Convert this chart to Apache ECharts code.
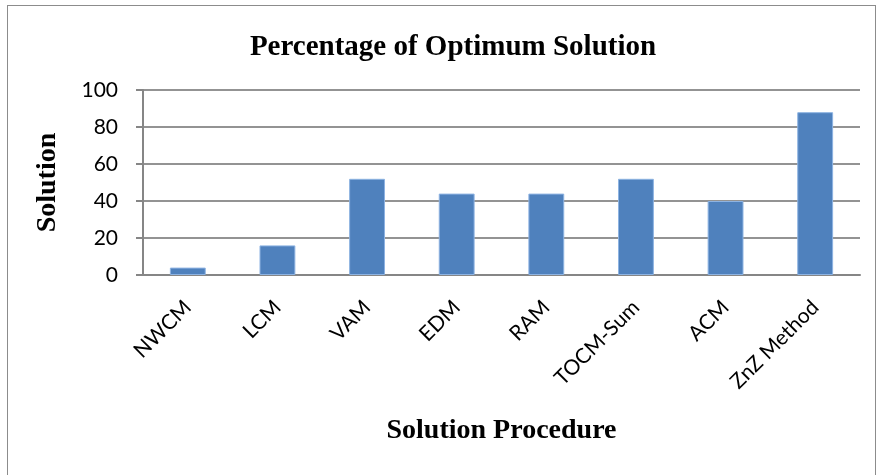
<!DOCTYPE html>
<html><head><meta charset="utf-8">
<script src="https://cdn.jsdelivr.net/npm/echarts@6/dist/echarts.min.js"></script>
<style>
html,body{margin:0;padding:0;background:#fff;}
#frame{position:absolute;left:7px;top:5px;width:869px;height:480px;border:1px solid #8c8c8c;box-sizing:border-box;}
#c{position:absolute;left:0;top:0;width:879px;height:475px;}
</style></head>
<body>
<div id="frame"></div>
<div id="c"></div>
<script>
var categories = ['NWCM','LCM','VAM','EDM','RAM','TOCM-Sum','ACM','ZnZ Method'];
var values = [4,16,52,44,44,52,40,88];
var yTicks = [0,20,40,60,80,100];

var chart = echarts.init(document.getElementById('c'));
chart.setOption({
  animation:false,
  title:{text:'Percentage of Optimum Solution',left:448,top:28,textAlign:'center',
    textStyle:{fontFamily:'Liberation Serif',fontWeight:'bold',fontSize:29,color:'#000'}},
  grid:{left:143,right:19,top:90,bottom:200},
  xAxis:{type:'category',data:categories,
    axisLine:{lineStyle:{color:'#868686',width:2}},
    axisTick:{show:false},
    axisLabel:{rotate:45,fontFamily:'Lato',fontSize:21,color:'#000',margin:29,interval:0},
    name:'Solution Procedure',nameLocation:'middle',nameGap:142,
    nameTextStyle:{fontFamily:'Liberation Serif',fontWeight:'bold',fontSize:28,color:'#000'}},
  yAxis:{type:'value',min:yTicks[0],max:yTicks[yTicks.length-1],interval:20,
    axisLine:{show:true,lineStyle:{color:'#868686',width:2}},
    axisTick:{show:true,length:7,lineStyle:{color:'#868686',width:2}},
    splitLine:{lineStyle:{color:'#939393',width:2}},
    axisLabel:{fontFamily:'Lato',fontSize:21,color:'#000',margin:25},
    name:'Solution',nameLocation:'middle',nameGap:81,
    nameTextStyle:{fontFamily:'Liberation Serif',fontWeight:'bold',fontSize:28,color:'#000'}},
  series:[{type:'bar',data:values,barWidth:'40%',
    itemStyle:{color:'#4f81bd',borderColor:'#8db3e2',borderWidth:1}}]
});
</script>
</body></html>
